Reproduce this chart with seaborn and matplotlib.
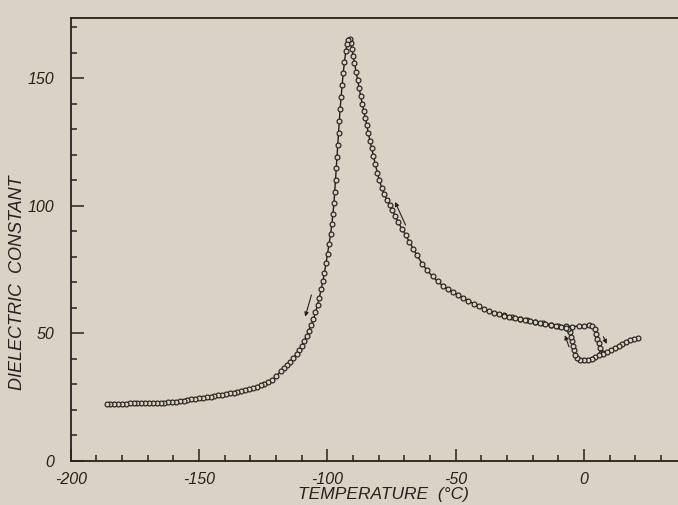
import matplotlib
matplotlib.use("Agg")
import matplotlib.pyplot as plt
from matplotlib.ticker import MultipleLocator
import numpy as np
import pandas as pd
import seaborn as sns

# ---- data ----
# cooling run: starts at +21 C, goes through the small loop, over the peak, down to -186 C
cool_T = [21.0, 19.5, 18.0, 16.5, 15.0, 13.5, 12.0, 10.5, 9.0, 7.5, 6.0, 4.5, 3.0, 1.5, 0.0,
          -1.5, -2.8, -3.5, -3.9, -4.2, -4.6, -5.0, -5.5, -6.2,
          -7, -9, -11, -13, -15, -17, -19, -21, -23, -25, -27, -29, -31, -33, -35, -37, -39,
          -41, -43, -45, -47, -49, -51, -53, -55, -57, -59, -61, -63, -65, -66.5, -68, -69.5,
          -71, -72.3, -73.5, -74.6, -75.7, -76.8, -77.8, -78.8, -79.7, -80.5, -81.3, -82.0,
          -82.7, -83.4, -84.0, -84.6, -85.2, -85.8, -86.4, -87.0, -87.6, -88.2, -88.8, -89.4,
          -89.9, -90.4, -90.9, -91.3, -91.8, -92.3, -92.8, -93.3, -93.8, -94.2, -94.6, -95.0,
          -95.3, -95.6, -95.9, -96.2, -96.5, -96.8, -97.1, -97.4, -97.8, -98.2, -98.7, -99.3,
          -99.9, -100.5, -101.1, -101.7, -102.4, -103.1, -103.8, -104.6, -105.4, -106.3,
          -107.2, -108.1, -109.0, -110.0, -111.0, -112.0, -113.2, -114.4, -115.6, -116.9,
          -118.2, -119.8, -121.4, -123, -124.5, -126, -127.5, -129, -130.5, -132, -133.5,
          -135, -136.5, -138, -139.5, -141, -142.5, -144, -145.5, -147, -148.5, -150, -151.5,
          -153, -154.5, -156, -157.5, -159, -160.5, -162, -163.5, -165, -166.5, -168, -169.5,
          -171, -172.5, -174, -175.5, -177, -178.5, -180, -181.5, -183, -184.5, -186]
cool_D = [48.3, 47.8, 47.2, 46.5, 45.8, 45.0, 44.2, 43.4, 42.7, 42.0, 41.4, 40.6, 40.0, 39.6, 39.5,
          39.6, 40.1, 41.5, 43.3, 45.1, 46.9, 48.7, 50.3, 51.5,
          52.2, 52.5, 52.8, 53.2, 53.6, 54.0, 54.4, 54.8, 55.2, 55.6, 56.0, 56.4, 56.9, 57.5,
          58.1, 58.8, 59.6, 60.5, 61.6, 62.7, 63.8, 65.0, 66.2, 67.2, 68.6, 70.3, 72.3, 74.6,
          77.2, 80.5, 83.1, 85.8, 88.5, 91.0, 93.5, 95.8, 98.2, 100.4, 102.4, 104.6, 107.0,
          110.2, 113.0, 116.2, 119.5, 122.5, 125.5, 128.5, 131.5, 134.4, 137.2, 140.0, 143.0,
          146.2, 149.3, 152.5, 155.8, 158.8, 161.6, 164.0, 165.2, 165.0, 163.6, 160.5, 156.5,
          152.0, 147.5, 142.8, 138.0, 133.3, 128.6, 124.0, 119.3, 114.6, 110.0, 105.5, 101.0,
          96.8, 93.0, 89.0, 85.0, 81.2, 77.5, 73.8, 70.5, 67.2, 64.0, 61.0, 58.2, 55.6, 53.2,
          51.0, 48.8, 46.8, 45.0, 43.3, 41.8, 40.3, 38.8, 37.5, 36.2, 35.0, 33.3, 31.7, 30.9,
          30.2, 29.5, 29.0, 28.5, 28.0, 27.6, 27.2, 26.9, 26.6, 26.4, 26.2, 25.9, 25.6, 25.3,
          25.1, 24.8, 24.6, 24.4, 24.3, 24.1, 23.8, 23.6, 23.4, 23.2, 23.1, 22.9, 22.8, 22.8,
          22.7, 22.7, 22.6, 22.6, 22.6, 22.5, 22.5, 22.5, 22.4, 22.4, 22.4, 22.3, 22.3, 22.3]

# heating run through the upper side of the loop
heat_T = [-31, -28, -25, -22, -19, -16, -13, -10, -7, -4.5, -2, 0.0, 2.0, 3.3, 4.2, 4.8,
          5.3, 5.7, 6.1, 6.5, 7.5]
heat_D = [57.1, 56.3, 55.7, 55.0, 54.4, 53.9, 53.4, 53.0, 52.7, 52.6, 52.8, 53.0, 53.3,
          53.0, 51.6, 49.8, 47.9, 46.0, 44.1, 42.4, 42.2]

x_ticks = [-200, -150, -100, -50, 0]
x_labels = ["-200", "-150", "-100", "-50", "0"]
y_ticks = [0, 50, 100, 150]
y_labels = ["0", "50", "100", "150"]

# direction arrows (tail -> head) in data units
arrows = [((-106.2, 65.0), (-108.6, 56.5)),
          ((-69.5, 92.4), (-73.6, 101.5)),
          ((-5.8, 44.7), (-7.4, 49.2)),
          ((7.6, 48.6), (8.9, 45.8))]

paper = "#d9d3c5"
ink = "#23221d"

sns.set_theme(style="ticks")
plt.rcParams["font.family"] = ["Liberation Sans", "DejaVu Sans"]

fig = plt.figure(figsize=(6.78, 5.05), dpi=100, facecolor=paper)
ax = fig.add_axes([70.7 / 678, 44.3 / 505, 641.5 / 678, 442.4 / 505])
ax.set_facecolor(paper)

cool = pd.DataFrame({"T": cool_T, "D": cool_D})
heat = pd.DataFrame({"T": heat_T, "D": heat_D})
for df in (heat, cool):
    sns.lineplot(data=df, x="T", y="D", sort=False, ax=ax, color=ink, lw=1.0,
                 marker="o", markersize=3.5, markerfacecolor=paper,
                 markeredgecolor=ink, markeredgewidth=0.85)

for (x0, y0), (x1, y1) in arrows:
    ax.annotate("", xy=(x1, y1), xytext=(x0, y0),
                arrowprops=dict(arrowstyle="-|>", color=ink, lw=0.8,
                                mutation_scale=6, shrinkA=0, shrinkB=0))

ax.set_xlim(-200, 50)
ax.set_ylim(0, 173.5)
ax.set_xticks(x_ticks)
ax.set_xticklabels(x_labels)
ax.set_yticks(y_ticks)
ax.set_yticklabels(y_labels)
ax.xaxis.set_minor_locator(MultipleLocator(10))
ax.yaxis.set_minor_locator(MultipleLocator(10))
ax.tick_params(which="major", direction="in", length=9, width=1.1, color=ink,
               labelsize=11.5, labelcolor=ink)
ax.tick_params(which="minor", direction="in", length=4.5, width=1.1, color=ink)
ax.tick_params(axis="x", which="major", pad=8)
ax.tick_params(axis="y", which="major", pad=12)
for lab in ax.get_xticklabels() + ax.get_yticklabels():
    lab.set_fontstyle("italic")
for side in ("left", "bottom", "top", "right"):
    ax.spines[side].set_color(ink)
    ax.spines[side].set_linewidth(1.3)
ax.set_xlabel("")
ax.set_ylabel("")

fig.text(383 / 678, 1 - 495 / 505, "TEMPERATURE  (°C)", ha="center", va="center",
         fontsize=12.5, fontstyle="italic", color=ink)
fig.text(18 / 678, 1 - 283 / 505, "DIELECTRIC  CONSTANT", ha="center", va="center",
         rotation=90, fontsize=13, fontstyle="italic", color=ink)

fig.savefig("out.png", dpi=100, facecolor=paper)
